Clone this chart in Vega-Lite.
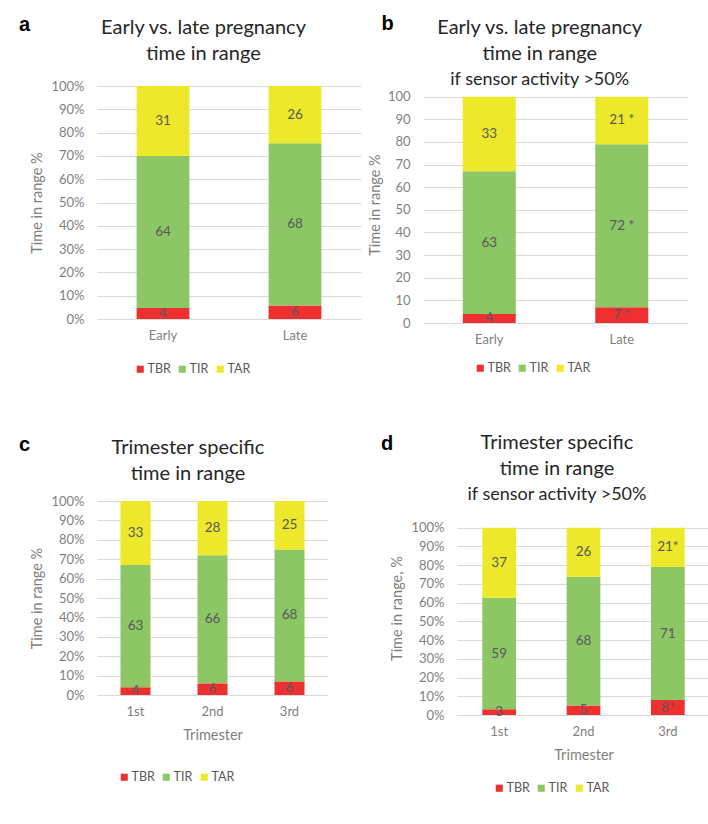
{
  "$schema": "https://vega.github.io/schema/vega-lite/v6.json",
  "background": "white",
  "padding": {"left": 18, "top": 13, "right": 0, "bottom": 0},
  "datasets": {
    "a": [
      {"period": "Early", "cat": "TBR", "idx": 1, "value": 4.7, "label": "4"},
      {"period": "Early", "cat": "TIR", "idx": 2, "value": 65.3, "label": "64"},
      {"period": "Early", "cat": "TAR", "idx": 3, "value": 30, "label": "31"},
      {"period": "Late", "cat": "TBR", "idx": 1, "value": 5.8, "label": "6"},
      {"period": "Late", "cat": "TIR", "idx": 2, "value": 69.6, "label": "68"},
      {"period": "Late", "cat": "TAR", "idx": 3, "value": 24.6, "label": "26"}
    ],
    "b": [
      {"period": "Early", "cat": "TBR", "idx": 1, "value": 4, "label": "4"},
      {"period": "Early", "cat": "TIR", "idx": 2, "value": 63, "label": "63"},
      {"period": "Early", "cat": "TAR", "idx": 3, "value": 33, "label": "33"},
      {"period": "Late", "cat": "TBR", "idx": 1, "value": 7, "label": "7 *"},
      {"period": "Late", "cat": "TIR", "idx": 2, "value": 72, "label": "72 *"},
      {"period": "Late", "cat": "TAR", "idx": 3, "value": 21, "label": "21 *"}
    ],
    "c": [
      {"tri": "1st", "cat": "TBR", "idx": 1, "value": 4, "label": "4"},
      {"tri": "1st", "cat": "TIR", "idx": 2, "value": 63, "label": "63"},
      {"tri": "1st", "cat": "TAR", "idx": 3, "value": 33, "label": "33"},
      {"tri": "2nd", "cat": "TBR", "idx": 1, "value": 6, "label": "6"},
      {"tri": "2nd", "cat": "TIR", "idx": 2, "value": 66, "label": "66"},
      {"tri": "2nd", "cat": "TAR", "idx": 3, "value": 28, "label": "28"},
      {"tri": "3rd", "cat": "TBR", "idx": 1, "value": 7, "label": "6"},
      {"tri": "3rd", "cat": "TIR", "idx": 2, "value": 68, "label": "68"},
      {"tri": "3rd", "cat": "TAR", "idx": 3, "value": 25, "label": "25"}
    ],
    "d": [
      {"tri": "1st", "cat": "TBR", "idx": 1, "value": 3, "label": "3"},
      {"tri": "1st", "cat": "TIR", "idx": 2, "value": 59, "label": "59"},
      {"tri": "1st", "cat": "TAR", "idx": 3, "value": 37, "label": "37"},
      {"tri": "2nd", "cat": "TBR", "idx": 1, "value": 5, "label": "5"},
      {"tri": "2nd", "cat": "TIR", "idx": 2, "value": 68, "label": "68"},
      {"tri": "2nd", "cat": "TAR", "idx": 3, "value": 26, "label": "26"},
      {"tri": "3rd", "cat": "TBR", "idx": 1, "value": 8, "label": "8*"},
      {"tri": "3rd", "cat": "TIR", "idx": 2, "value": 71, "label": "71"},
      {"tri": "3rd", "cat": "TAR", "idx": 3, "value": 21, "label": "21*"}
    ]
  },
  "resolve": {"scale": {"color": "independent"}, "legend": {"color": "independent"}},
  "spacing": 7,
  "vconcat": [
    {
      "resolve": {"scale": {"color": "independent"}, "legend": {"color": "independent"}},
      "spacing": 6,
      "hconcat": [
        {
          "title": {"text": "a", "anchor": "start", "frame": "bounds", "font": "Liberation Sans", "fontWeight": "bold", "fontSize": 20, "color": "#000000", "dx": -11, "dy": 21},
          "resolve": {"scale": {"color": "independent"}, "legend": {"color": "independent"}},
          "vconcat": [
            {
              "data": {"name": "a"},
              "title": {"text": ["Early vs. late pregnancy", "time in range"], "frame": "bounds", "dx": 8, "offset": 16},
              "width": 264,
              "height": 233,
              "encoding": {
                "x": {"field": "period", "type": "nominal", "sort": null, "title": null, "scale": {"paddingInner": 0.6, "paddingOuter": 0.3}}
              },
              "layer": [
                {
                  "mark": {"type": "bar"},
                  "encoding": {
                    "y": {"field": "value", "type": "quantitative", "stack": "normalize", "scale": {"domain": [0, 1], "nice": false}, "title": "Time in range %", "axis": {"format": ".0%", "values": [0, 0.1, 0.2, 0.3, 0.4, 0.5, 0.6, 0.7, 0.8, 0.9, 1], "titlePadding": 6}},
                    "color": {"field": "cat", "type": "nominal", "scale": {"domain": ["TBR", "TIR", "TAR"], "range": ["#EE3030", "#8CC665", "#EEE82A"]}, "legend": {"title": null, "orient": "bottom", "direction": "horizontal", "gridAlign": "none", "symbolType": "square", "symbolSize": 50, "symbolStrokeWidth": 0, "labelFont": "Lato", "labelFontSize": 12.5, "labelColor": "#595959", "labelOffset": 1, "columnPadding": 5, "padding": 37, "offset": -16}},
                    "order": {"field": "idx"}
                  }
                },
                {
                  "mark": {"type": "text", "color": "#595959", "fontSize": 13.5, "baseline": "middle"},
                  "encoding": {
                    "y": {"field": "value", "type": "quantitative", "stack": "normalize", "bandPosition": 0.5, "axis": {"format": ".0%", "values": [0, 0.1, 0.2, 0.3, 0.4, 0.5, 0.6, 0.7, 0.8, 0.9, 1], "titlePadding": 6}},
                    "detail": {"field": "cat"},
                    "order": {"field": "idx"},
                    "text": {"field": "label"}
                  }
                }
              ]
            }
          ]
        },
        {
          "title": {"text": "b", "anchor": "start", "frame": "bounds", "font": "Liberation Sans", "fontWeight": "bold", "fontSize": 20, "color": "#000000", "dx": 14, "dy": 19.5},
          "resolve": {"scale": {"color": "independent"}, "legend": {"color": "independent"}},
          "vconcat": [
            {
              "data": {"name": "b"},
              "title": {"text": ["Early vs. late pregnancy", "time in range"], "subtitle": "if sensor activity >50%", "frame": "bounds", "dx": 12, "offset": -3, "subtitlePadding": 7},
              "width": 265,
              "height": 237,
              "encoding": {
                "x": {"field": "period", "type": "nominal", "sort": null, "title": null, "scale": {"paddingInner": 0.6, "paddingOuter": 0.3}}
              },
              "layer": [
                {
                  "mark": {"type": "bar"},
                  "encoding": {
                    "y": {"field": "value", "type": "quantitative", "stack": "zero", "scale": {"domain": [0, 104.7], "nice": false}, "title": "Time in range %", "axis": {"values": [0, 10, 20, 30, 40, 50, 60, 70, 80, 90, 100], "titlePadding": 5}},
                    "color": {"field": "cat", "type": "nominal", "scale": {"domain": ["TBR", "TIR", "TAR"], "range": ["#EE3030", "#8CC665", "#EEE82A"]}, "legend": {"title": null, "orient": "bottom", "direction": "horizontal", "gridAlign": "none", "symbolType": "square", "symbolSize": 50, "symbolStrokeWidth": 0, "labelFont": "Lato", "labelFontSize": 12.5, "labelColor": "#595959", "labelOffset": 1, "columnPadding": 5, "padding": 51, "offset": -35}},
                    "order": {"field": "idx"}
                  }
                },
                {
                  "mark": {"type": "text", "color": "#595959", "fontSize": 13.5, "baseline": "middle"},
                  "encoding": {
                    "y": {"field": "value", "type": "quantitative", "stack": "zero", "bandPosition": 0.5, "axis": {"values": [0, 10, 20, 30, 40, 50, 60, 70, 80, 90, 100], "titlePadding": 5}},
                    "detail": {"field": "cat"},
                    "order": {"field": "idx"},
                    "text": {"field": "label"}
                  }
                }
              ]
            }
          ]
        }
      ]
    },
    {
      "resolve": {"scale": {"color": "independent"}, "legend": {"color": "independent"}},
      "spacing": 52,
      "hconcat": [
        {
          "title": {"text": "c", "anchor": "start", "frame": "bounds", "font": "Liberation Sans", "fontWeight": "bold", "fontSize": 20, "color": "#000000", "dx": -11, "dy": 20.5},
          "resolve": {"scale": {"color": "independent"}, "legend": {"color": "independent"}},
          "vconcat": [
            {
              "data": {"name": "c"},
              "title": {"text": ["Trimester specific", "time in range"], "frame": "bounds", "dx": 9, "offset": 11},
              "width": 231,
              "height": 194,
              "encoding": {
                "x": {"field": "tri", "type": "nominal", "sort": null, "title": "Trimester", "scale": {"paddingInner": 0.61, "paddingOuter": 0.305}}
              },
              "layer": [
                {
                  "mark": {"type": "bar"},
                  "encoding": {
                    "y": {"field": "value", "type": "quantitative", "stack": "normalize", "scale": {"domain": [0, 1], "nice": false}, "title": "Time in range %", "axis": {"format": ".0%", "values": [0, 0.1, 0.2, 0.3, 0.4, 0.5, 0.6, 0.7, 0.8, 0.9, 1], "titlePadding": 6}},
                    "color": {"field": "cat", "type": "nominal", "scale": {"domain": ["TBR", "TIR", "TAR"], "range": ["#EE3030", "#8CC665", "#EEE82A"]}, "legend": {"title": null, "orient": "bottom", "direction": "horizontal", "gridAlign": "none", "symbolType": "square", "symbolSize": 50, "symbolStrokeWidth": 0, "labelFont": "Lato", "labelFontSize": 12.5, "labelColor": "#595959", "labelOffset": 1, "columnPadding": 5, "padding": 21, "offset": 8}},
                    "order": {"field": "idx"}
                  }
                },
                {
                  "mark": {"type": "text", "color": "#595959", "fontSize": 13.5, "baseline": "middle"},
                  "encoding": {
                    "y": {"field": "value", "type": "quantitative", "stack": "normalize", "bandPosition": 0.5, "axis": {"format": ".0%", "values": [0, 0.1, 0.2, 0.3, 0.4, 0.5, 0.6, 0.7, 0.8, 0.9, 1], "titlePadding": 6}},
                    "detail": {"field": "cat"},
                    "order": {"field": "idx"},
                    "text": {"field": "label"}
                  }
                }
              ]
            }
          ]
        },
        {
          "title": {"text": "d", "anchor": "start", "frame": "bounds", "font": "Liberation Sans", "fontWeight": "bold", "fontSize": 20, "color": "#000000", "dx": -9, "dy": 25},
          "resolve": {"scale": {"color": "independent"}, "legend": {"color": "independent"}},
          "vconcat": [
            {
              "data": {"name": "d"},
              "title": {"text": ["Trimester specific", "time in range"], "subtitle": "if sensor activity >50%", "frame": "bounds", "dx": 7, "offset": -3, "subtitlePadding": 7},
              "width": 253,
              "height": 214,
              "encoding": {
                "x": {"field": "tri", "type": "nominal", "sort": null, "title": "Trimester", "scale": {"paddingInner": 0.6, "paddingOuter": 0.3}}
              },
              "layer": [
                {
                  "mark": {"type": "bar"},
                  "encoding": {
                    "y": {"field": "value", "type": "quantitative", "stack": "normalize", "scale": {"domain": [0, 1.1424], "nice": false}, "title": "Time in range, %", "axis": {"format": ".0%", "values": [0, 0.1, 0.2, 0.3, 0.4, 0.5, 0.6, 0.7, 0.8, 0.9, 1], "titlePadding": 6}},
                    "color": {"field": "cat", "type": "nominal", "scale": {"domain": ["TBR", "TIR", "TAR"], "range": ["#EE3030", "#8CC665", "#EEE82A"]}, "legend": {"title": null, "orient": "bottom", "direction": "horizontal", "gridAlign": "none", "symbolType": "square", "symbolSize": 50, "symbolStrokeWidth": 0, "labelFont": "Lato", "labelFontSize": 12.5, "labelColor": "#595959", "labelOffset": 1, "columnPadding": 5, "padding": 36, "offset": -16}},
                    "order": {"field": "idx"}
                  }
                },
                {
                  "mark": {"type": "text", "color": "#595959", "fontSize": 13.5, "baseline": "middle"},
                  "encoding": {
                    "y": {"field": "value", "type": "quantitative", "stack": "normalize", "bandPosition": 0.5, "axis": {"format": ".0%", "values": [0, 0.1, 0.2, 0.3, 0.4, 0.5, 0.6, 0.7, 0.8, 0.9, 1], "titlePadding": 6}},
                    "detail": {"field": "cat"},
                    "order": {"field": "idx"},
                    "text": {"field": "label"}
                  }
                }
              ]
            }
          ]
        }
      ]
    }
  ],
  "config": {
    "font": "Lato",
    "view": {"stroke": null},
    "title": {"font": "Lato", "fontWeight": "normal", "fontSize": 20, "color": "#262626", "lineHeight": 26, "subtitleFont": "Lato", "subtitleFontSize": 18, "subtitleColor": "#262626", "anchor": "middle"},
    "axis": {"labelFont": "Lato", "titleFont": "Lato", "labelColor": "#7f7f7f", "titleColor": "#7f7f7f", "labelFontSize": 13, "titleFontSize": 14.5, "titleFontWeight": "normal", "ticks": false, "domain": false, "labelOverlap": false},
    "axisY": {"gridColor": "#d9d9d9", "gridWidth": 1, "labelPadding": 13},
    "axisX": {"labelPadding": 10, "labelAngle": 0, "grid": false, "titlePadding": 10}
  }
}
